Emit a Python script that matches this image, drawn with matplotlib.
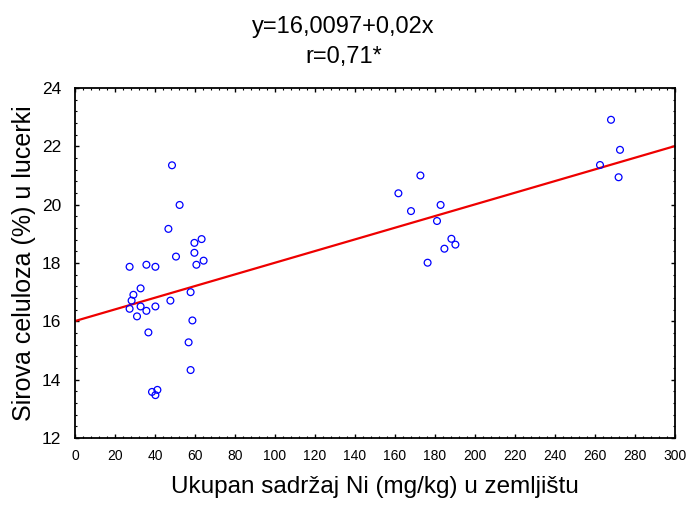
import matplotlib
matplotlib.use("Agg")
import matplotlib.pyplot as plt
import numpy as np
from matplotlib.ticker import AutoMinorLocator

plt.rcParams['font.family'] = ['Liberation Sans', 'DejaVu Sans']

ni_soil = [48.5, 52.3, 46.7, 59.7, 63.3, 59.7, 50.5, 27.3, 35.7, 40.2,
           60.7, 64.3, 32.8, 29.2, 28.3, 27.3, 32.8, 35.7, 40.2, 47.7,
           57.8, 31.0, 58.7, 36.7, 56.8, 57.8, 38.5, 41.2, 40.2,
           172.7, 161.7, 168.0, 182.8, 181.0, 188.2, 190.2, 184.7, 176.3,
           268.0, 272.5, 262.5, 271.8]
cellulose = [21.35, 19.99, 19.17, 18.69, 18.82, 18.35, 18.22, 17.87, 17.94, 17.87,
             17.94, 18.08, 17.13, 16.91, 16.71, 16.43, 16.51, 16.36, 16.51, 16.71,
             17.00, 16.17, 16.03, 15.62, 15.28, 14.33, 13.58, 13.65, 13.47,
             21.00, 20.39, 19.78, 19.99, 19.44, 18.83, 18.63, 18.49, 18.01,
             22.91, 21.88, 21.36, 20.94]
intercept = 16.0097
slope = 0.02
x_ticks = list(range(0, 301, 20))
y_ticks = list(range(12, 25, 2))

fig = plt.figure(figsize=(6.87, 5.07), dpi=100)
ax = fig.add_axes([75/687, 69/507, 600/687, 350/507])

ax.scatter(ni_soil, cellulose, s=24, facecolors='none', edgecolors='#0000ff',
           linewidths=0.9, zorder=3)
xl = np.array([0, 300])
ax.plot(xl, intercept + slope * xl, color='#ee0000', lw=1.6, zorder=2)

ax.set_xlim(0, 300)
ax.set_ylim(12, 24)
ax.set_xticks(x_ticks)
ax.set_yticks(y_ticks)
ax.xaxis.set_minor_locator(AutoMinorLocator(5))
ax.yaxis.set_minor_locator(AutoMinorLocator(5))
ax.tick_params(which='both', direction='in', top=True, right=True)
ax.tick_params(which='major', length=3, width=1)
ax.tick_params(which='minor', length=1.5, width=0.8)
ax.tick_params(axis='x', labelsize=10, pad=8)
ax.tick_params(axis='y', labelsize=12.5, pad=10)
for s in ax.spines.values():
    s.set_linewidth(1.3)

ax.set_xlabel('Ukupan sadržaj Ni (mg/kg) u zemljištu', fontsize=17.5, labelpad=9)
ax.set_ylabel('Sirova celuloza (%) u lucerki', fontsize=18, labelpad=4)

fig.text(0.5, 1 - 27/507, 'y=16,0097+0,02x', ha='center', va='center', fontsize=17)
fig.text(0.5, 1 - 57/507, 'r=0,71*', ha='center', va='center', fontsize=17)

fig.savefig('out.png', dpi=100)
